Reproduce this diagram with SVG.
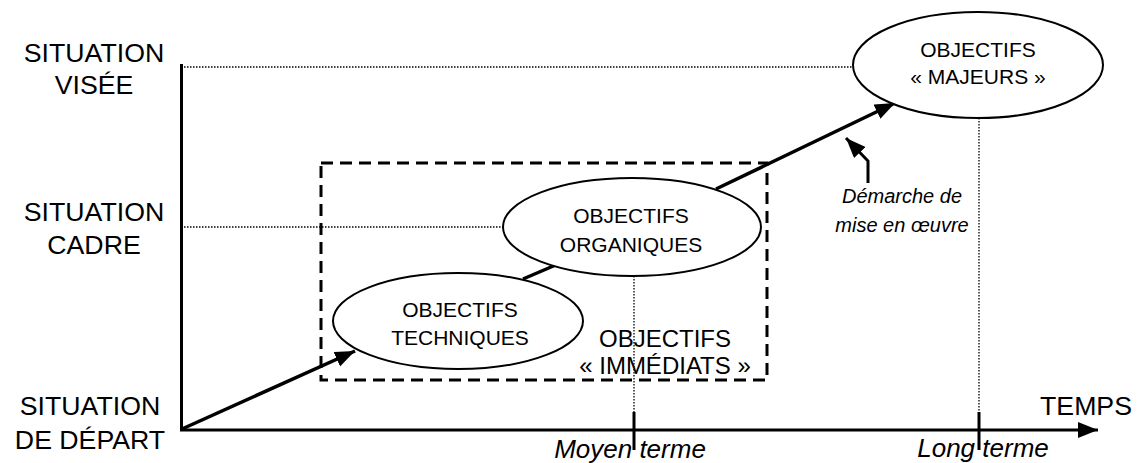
<svg xmlns="http://www.w3.org/2000/svg" width="1138" height="463" viewBox="0 0 1138 463">
<style>
text{font-family:"Liberation Sans",Arial,sans-serif;fill:#000}
.lbl{font-size:26.7px;text-anchor:middle}
.obj{font-size:21px;text-anchor:middle}
.imm{font-size:24px;text-anchor:middle}
.it{font-size:20px;font-style:italic;text-anchor:middle}
.term{font-size:26px;font-style:italic;text-anchor:middle}
.axis{stroke:#000;stroke-width:3;fill:none}
.dot{stroke:#000;stroke-width:1.3;stroke-dasharray:1.5 1.5;fill:none}
.path{stroke:#000;stroke-width:3.5;fill:none}
.ell{stroke:#000;stroke-width:2;fill:#fff}
</style>
<defs>
<marker id="ah" markerUnits="userSpaceOnUse" markerWidth="24" markerHeight="18" refX="20" refY="8" orient="auto">
<path d="M0,0 L20,8 L0,16 Z" fill="#000"/>
</marker>
</defs>
<rect width="1138" height="463" fill="#fff"/>
<g id="guides">
<line class="dot" x1="184" y1="67" x2="853" y2="67"/>
<line class="dot" x1="184" y1="227" x2="503" y2="227"/>
<line class="dot" x1="634" y1="276" x2="634" y2="412"/>
<line class="dot" x1="979" y1="118" x2="979" y2="412"/>
</g>
<g id="box">
<rect x="321" y="163" width="446" height="217" fill="none" stroke="#000" stroke-width="3" stroke-dasharray="12 7"/>
</g>
<g id="axes">
<line class="axis" x1="181.5" y1="64" x2="181.5" y2="431"/>
<line class="axis" x1="180" y1="430" x2="1098" y2="430" marker-end="url(#ah)"/>
<line class="axis" x1="634" y1="412" x2="634" y2="450"/>
<line class="axis" x1="979" y1="412" x2="979" y2="450"/>
</g>
<g id="connectors">
<line class="path" x1="182" y1="429" x2="355" y2="351" marker-end="url(#ah)"/>
<line class="path" x1="523" y1="279" x2="558" y2="264"/>
<line class="path" x1="716" y1="189" x2="895" y2="103" marker-end="url(#ah)"/>
<path class="axis" d="M868,183 V161 L846,138" marker-end="url(#ah)"/>
</g>
<g id="node-majeurs">
<ellipse class="ell" cx="978" cy="65" rx="125" ry="53"/>
<text class="obj" x="978" y="57">OBJECTIFS</text>
<text class="obj" x="978" y="84">« MAJEURS »</text>
</g>
<g id="node-organiques">
<ellipse class="ell" cx="632" cy="227" rx="129" ry="49"/>
<text class="obj" x="631" y="223">OBJECTIFS</text>
<text class="obj" x="631" y="252">ORGANIQUES</text>
</g>
<g id="node-techniques">
<ellipse class="ell" cx="458" cy="321" rx="125" ry="48"/>
<text class="obj" x="460" y="317">OBJECTIFS</text>
<text class="obj" x="460" y="345">TECHNIQUES</text>
</g>
<g id="labels">
<text class="imm" x="665" y="347">OBJECTIFS</text>
<text class="imm" x="665" y="374">« IMMÉDIATS »</text>
<text class="lbl" x="94" y="62">SITUATION</text>
<text class="lbl" x="94" y="94">VISÉE</text>
<text class="lbl" x="94" y="221">SITUATION</text>
<text class="lbl" x="94" y="254">CADRE</text>
<text class="lbl" x="90" y="415">SITUATION</text>
<text class="lbl" x="90" y="449">DE DÉPART</text>
<text class="lbl" x="1086" y="415">TEMPS</text>
<text class="term" x="630" y="458">Moyen terme</text>
<text class="term" x="983" y="457">Long terme</text>
<text class="it" x="902" y="203">Démarche de</text>
<text class="it" x="902" y="232">mise en œuvre</text>
</g>
</svg>
